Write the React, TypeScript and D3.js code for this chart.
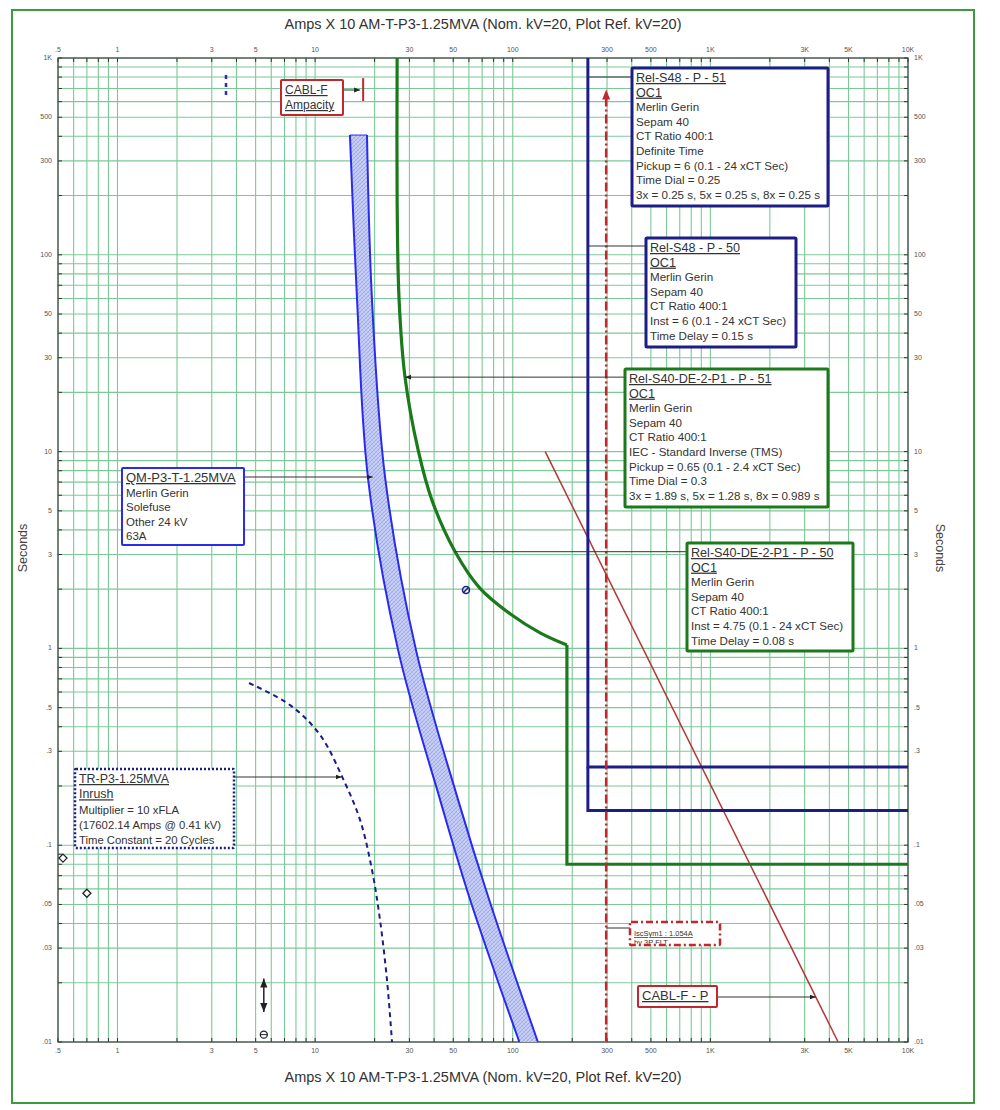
import React from 'react';
import * as d3 from 'd3';

// ---------- data ----------
const xTickValues = [0.5, 1, 3, 5, 10, 30, 50, 100, 300, 500, 1000, 3000, 5000, 10000];
const xTickLabels = ['.5', '1', '3', '5', '10', '30', '50', '100', '300', '500', '1K', '3K', '5K', '10K'];
const yTickValues = [1000, 500, 300, 100, 50, 30, 10, 5, 3, 1, 0.5, 0.3, 0.1, 0.05, 0.03, 0.01];
const yTickLabels = ['1K', '500', '300', '100', '50', '30', '10', '5', '3', '1', '.5', '.3', '.1', '.05', '.03', '.01'];

// Fuse QM-P3-T-1.25MVA (Amps x10, seconds)
const fuseMinMelt: [number, number][] = [[15.0, 406], [16.3, 59], [18.5, 7.4], [26.3, 0.98], [42.9, 0.17], [60.8, 0.053], [108, 0.01]];
const fuseTotalClear: [number, number][] = [[18.3, 406], [19.4, 59], [22.6, 7.4], [32.4, 0.98], [52.9, 0.17], [75.9, 0.053], [134, 0.01]];

// Rel-S40-DE-2-P1 (51 + 50)
const relS40Curve: [number, number][] = [[26, 1000], [26, 190], [26.6, 59], [28.5, 23.9], [33.2, 10.2], [39.0, 5.67], [51.1, 3.1], [68.3, 2.02], [96.9, 1.5], [137.5, 1.2], [188, 1.04]];
const relS40Inst: [number, number][] = [[188, 1.04], [188, 0.08], [10000, 0.08]];

// Rel-S48 (51 definite time + 50)
const relS48Pickup = 240;
const relS48Def: [number, number][] = [[240, 1000], [240, 0.25], [10000, 0.25]];
const relS48Inst: [number, number][] = [[240, 0.25], [240, 0.15], [10000, 0.15]];

// Fault current marker
const iscLine: [number, number][] = [[297, 630], [297, 0.01]];

// Cable damage curve
const cableDamage: [number, number][] = [[146, 10], [4430, 0.01]];
// Cable ampacity
const cableAmpacity: [number, number][] = [[17.5, 790], [17.5, 605]];
// Transformer FLA marker
const trFla: [number, number][] = [[3.54, 820], [3.54, 620]];
// Transformer inrush
const inrush: [number, number][] = [[4.63, 0.667], [7.47, 0.515], [10.6, 0.363], [13.8, 0.219], [16.9, 0.134], [19.4, 0.0748], [21.3, 0.0417], [23.1, 0.0207], [24.5, 0.01]];
// Point markers
const diamondPts: [number, number][] = [[0.53, 0.086], [0.70, 0.057]];
const blueMark: [number, number] = [58, 1.98];
const blackSeg: [number, number][] = [[5.5, 0.021], [5.5, 0.0142]];
const blackCircle: [number, number] = [5.5, 0.0109];

const rel48_51Lines = ['Merlin Gerin', 'Sepam 40', 'CT Ratio 400:1', 'Definite Time', 'Pickup = 6 (0.1 - 24 xCT Sec)', 'Time Dial = 0.25', '3x = 0.25 s, 5x = 0.25 s, 8x = 0.25 s'];
const rel48_50Lines = ['Merlin Gerin', 'Sepam 40', 'CT Ratio 400:1', 'Inst = 6 (0.1 - 24 xCT Sec)', 'Time Delay = 0.15 s'];
const rel40_51Lines = ['Merlin Gerin', 'Sepam 40', 'CT Ratio 400:1', 'IEC - Standard Inverse (TMS)', 'Pickup = 0.65 (0.1 - 2.4 xCT Sec)', 'Time Dial = 0.3', '3x = 1.89 s, 5x = 1.28 s, 8x = 0.989 s'];
const rel40_50Lines = ['Merlin Gerin', 'Sepam 40', 'CT Ratio 400:1', 'Inst = 4.75 (0.1 - 24 xCT Sec)', 'Time Delay = 0.08 s'];
const fuseLines = ['Merlin Gerin', 'Solefuse', 'Other  24 kV', '63A'];
const inrushLines = ['Multiplier = 10 xFLA', '(17602.14 Amps @ 0.41 kV)', 'Time Constant = 20 Cycles'];

const TITLE = 'Amps  X  10   AM-T-P3-1.25MVA (Nom. kV=20, Plot Ref. kV=20)';
const FONT = 'Liberation Sans, Arial, sans-serif';

const L = 58, R = 908, T = 58, B = 1042;

function minorValues(lo: number, hi: number) {
  const out: number[] = [];
  for (let k = -3; k <= 5; k++) {
    for (let m = 1; m <= 9; m++) {
      const v = m * Math.pow(10, k);
      if (v >= lo * 0.9999 && v <= hi * 1.0001) out.push(v);
    }
  }
  return out;
}

type BoxProps = {
  x: number; y: number; w: number; h: number; stroke: string; sw: number; dash?: string;
  titles: string[]; lines: string[]; fs?: number; tfs?: number; lh?: number; id: string;
};

function LabelBox({ x, y, w, h, stroke, sw, dash, titles, lines, fs = 11.6, tfs = 12.6, lh = 14.6, id }: BoxProps) {
  const all = [...titles.map(t => ({ t, u: true })), ...lines.map(t => ({ t, u: false }))];
  return (
    <g>
      <clipPath id={id}><rect x={x} y={y} width={w} height={h - sw / 2} /></clipPath>
      <rect x={x} y={y} width={w} height={h} fill="#fff" stroke={stroke} strokeWidth={sw} strokeDasharray={dash} rx={1} />
      <g clipPath={`url(#${id})`}>
        {all.map((d, i) => (
          <text key={i} x={x + 4} y={y + 14 + i * lh} fontSize={d.u ? tfs : fs} fontFamily={FONT} fill="#333"
            textDecoration={d.u ? 'underline' : undefined}>{d.t}</text>
        ))}
      </g>
    </g>
  );
}

export default function App() {
  const x = d3.scaleLog().domain([0.5, 10000]).range([L, R]);
  const y = d3.scaleLog().domain([0.01, 1000]).range([B, T]);
  const gx = minorValues(0.5, 10000);
  const gy = minorValues(0.01, 1000);
  const lineLin = d3.line<[number, number]>().x(d => x(d[0])).y(d => y(d[1]));
  const lineSmooth = d3.line<[number, number]>().x(d => x(d[0])).y(d => y(d[1])).curve(d3.curveCatmullRom.alpha(0.5));

  const leftPath = lineSmooth(fuseMinMelt) || '';
  const rightPathRev = lineSmooth(fuseTotalClear.slice().reverse()) || '';
  const bandPath = leftPath + 'L' + rightPathRev.slice(1) + 'Z';

  const green = '#1b7a1b';
  const navy = '#1d1d86';
  const red = '#c1272d';
  const gridC = '#7cc998';

  return (
    <svg width={1000} height={1110} style={{ position: 'absolute', left: 0, top: 0, background: '#fff' }}>
      <defs>
        <pattern id="hatch" width="4" height="4" patternUnits="userSpaceOnUse">
          <rect width="4" height="4" fill="#c9d0f7" />
          <path d="M0,4 L4,0" stroke="#8f9ce9" strokeWidth="0.8" />
          <path d="M0,0 L4,4" stroke="#a9b3ef" strokeWidth="0.6" />
        </pattern>
        <marker id="arr" viewBox="0 0 10 10" refX="10" refY="5" markerWidth="6" markerHeight="6" orient="auto-start-reverse">
          <path d="M0,1 L10,5 L0,9 Z" fill="#222" />
        </marker>
      </defs>
      <rect x={12} y={10} width={962} height={1093} fill="#fff" stroke="#3d9b3d" strokeWidth={2} />

      {/* grid */}
      {gx.map((v, i) => <line key={'gx' + i} x1={x(v)} x2={x(v)} y1={T} y2={B} stroke={gridC} strokeWidth={1.1} />)}
      {gy.map((v, i) => <line key={'gy' + i} x1={L} x2={R} y1={y(v)} y2={y(v)} stroke={gridC} strokeWidth={1.1} />)}
      {/* ticks */}
      {gx.map((v, i) => (
        <g key={'tx' + i} stroke="#333" strokeWidth={1}>
          <line x1={x(v)} x2={x(v)} y1={T} y2={T + 4} />
          <line x1={x(v)} x2={x(v)} y1={B} y2={B - 4} />
        </g>
      ))}
      {gy.map((v, i) => (
        <g key={'ty' + i} stroke="#333" strokeWidth={1}>
          <line x1={L} x2={L + 4} y1={y(v)} y2={y(v)} />
          <line x1={R} x2={R - 4} y1={y(v)} y2={y(v)} />
        </g>
      ))}
      <rect x={L} y={T} width={R - L} height={B - T} fill="none" stroke="#444" strokeWidth={1.2} />

      {/* tick labels */}
      {xTickValues.map((v, i) => (
        <g key={'xl' + i} fontSize={7} fontFamily={FONT} fill="#555" textAnchor="middle">
          <text x={x(v)} y={T - 6}>{xTickLabels[i]}</text>
          <text x={x(v)} y={B + 11}>{xTickLabels[i]}</text>
        </g>
      ))}
      {yTickValues.map((v, i) => (
        <g key={'yl' + i} fontSize={7} fontFamily={FONT} fill="#555">
          <text x={L - 6} y={y(v) + 2} textAnchor="end">{yTickLabels[i]}</text>
          <text x={R + 6} y={y(v) + 2} textAnchor="start">{yTickLabels[i]}</text>
        </g>
      ))}

      {/* titles */}
      <text x={483} y={29} textAnchor="middle" fontSize={14.5} fontFamily={FONT} fill="#333">{TITLE}</text>
      <text x={483} y={1082} textAnchor="middle" fontSize={14.5} fontFamily={FONT} fill="#333">{TITLE}</text>
      <text transform="translate(27,548) rotate(-90)" textAnchor="middle" fontSize={12.5} fontFamily={FONT} fill="#444">Seconds</text>
      <text transform="translate(936,548) rotate(90)" textAnchor="middle" fontSize={12.5} fontFamily={FONT} fill="#444">Seconds</text>

      {/* fuse band */}
      <path d={bandPath} fill="url(#hatch)" stroke="none" />
      <path d={leftPath} fill="none" stroke="#2a2af0" strokeWidth={2} />
      <path d={lineSmooth(fuseTotalClear) || ''} fill="none" stroke="#2a2af0" strokeWidth={2} />
      <line x1={x(fuseMinMelt[0][0])} x2={x(fuseTotalClear[0][0])} y1={y(fuseMinMelt[0][1])} y2={y(fuseTotalClear[0][1])} stroke="#2a2af0" strokeWidth={1} />

      {/* transformer inrush */}
      <path d={lineSmooth(inrush) || ''} fill="none" stroke={navy} strokeWidth={2} strokeDasharray="5,4" />
      <path d={lineLin(trFla) || ''} fill="none" stroke="#2a2ad0" strokeWidth={2.5} strokeDasharray="4,4" />

      {/* cable */}
      <path d={lineLin(cableDamage) || ''} fill="none" stroke="#b53535" strokeWidth={1.5} />
      <path d={lineLin(cableAmpacity) || ''} fill="none" stroke={red} strokeWidth={2} />

      {/* relay S48 */}
      <path d={lineLin(relS48Def) || ''} fill="none" stroke={navy} strokeWidth={3} />
      <path d={lineLin(relS48Inst) || ''} fill="none" stroke={navy} strokeWidth={3} />

      {/* relay S40 */}
      <path d={lineSmooth(relS40Curve) || ''} fill="none" stroke={green} strokeWidth={3.2} />
      <path d={lineLin(relS40Inst) || ''} fill="none" stroke={green} strokeWidth={3.2} />

      {/* fault current line */}
      <path d={lineLin(iscLine) || ''} fill="none" stroke={red} strokeWidth={2.5} strokeDasharray="9,3,2,3" />
      <path d={`M${x(iscLine[0][0])},${y(iscLine[0][1]) - 8} l-4,10 l8,0 Z`} fill={red} />

      {/* markers */}
      {diamondPts.map((d, i) => (
        <path key={'dm' + i} d={`M${x(d[0])},${y(d[1]) - 4} l4,4 l-4,4 l-4,-4 Z`} fill="#fff" stroke="#222" strokeWidth={1.3} />
      ))}
      <g stroke={navy} strokeWidth={1.5} fill="none">
        <circle cx={x(blueMark[0])} cy={y(blueMark[1])} r={3.5} />
        <line x1={x(blueMark[0]) - 3} x2={x(blueMark[0]) + 3} y1={y(blueMark[1]) + 3} y2={y(blueMark[1]) - 3} />
      </g>
      <path d={lineLin(blackSeg) || ''} stroke="#222" strokeWidth={1.5} markerStart="url(#arr)" markerEnd="url(#arr)" />
      <circle cx={x(blackCircle[0])} cy={y(blackCircle[1])} r={3.5} fill="none" stroke="#222" strokeWidth={1.3} />
      <line x1={x(blackCircle[0]) - 3.5} x2={x(blackCircle[0]) + 3.5} y1={y(blackCircle[1])} y2={y(blackCircle[1])} stroke="#222" strokeWidth={1} />

      {/* leader lines */}
      <g stroke="#333" strokeWidth={1} fill="none">
        <line x1={x(relS48Pickup)} x2={632} y1={77} y2={77} />
        <line x1={x(relS48Pickup)} x2={646} y1={246} y2={246} />
        <line x1={x(28.5)} x2={625} y1={y(23.9)} y2={y(23.9)} markerStart="url(#arr)" />
        <line x1={x(51.1)} x2={687} y1={y(3.1)} y2={y(3.1)} />
        <line x1={244} x2={x(19.8) - 1} y1={477} y2={477} markerEnd="url(#arr)" />
        <line x1={234} x2={x(13.8) - 1} y1={777} y2={777} markerEnd="url(#arr)" />
        <line x1={343} x2={x(17.5) - 3} y1={90} y2={90} markerEnd="url(#arr)" />
        <line x1={x(297)} x2={630} y1={928} y2={928} />
        <line x1={717} x2={x(3500) - 2} y1={997} y2={997} markerEnd="url(#arr)" />
      </g>

      {/* label boxes */}
      <LabelBox id="c1" x={632} y={68} w={196} h={138} stroke={navy} sw={3} titles={['Rel-S48 - P - 51', 'OC1']} lines={rel48_51Lines} />
      <LabelBox id="c2" x={646} y={238} w={150} h={109} stroke={navy} sw={3} titles={['Rel-S48 - P - 50', 'OC1']} lines={rel48_50Lines} />
      <LabelBox id="c3" x={625} y={369} w={203} h={138} stroke={green} sw={3} titles={['Rel-S40-DE-2-P1 - P - 51', 'OC1']} lines={rel40_51Lines} />
      <LabelBox id="c4" x={687} y={543} w={166} h={108} stroke={green} sw={3} titles={['Rel-S40-DE-2-P1 - P - 50', 'OC1']} lines={rel40_50Lines} />
      <LabelBox id="c5" x={122} y={468} w={122} h={77} stroke="#2a2af0" sw={2} titles={['QM-P3-T-1.25MVA']} lines={fuseLines} lh={14.5} tfs={13} fs={11.5} />
      <LabelBox id="c6" x={75} y={769} w={159} h={79} stroke={navy} sw={2.5} dash="2,2" titles={['TR-P3-1.25MVA', 'Inrush']} lines={inrushLines} lh={15.3} fs={11.3} tfs={12.4} />
      <LabelBox id="c7" x={281} y={80} w={62} h={35} stroke={red} sw={2} titles={['CABL-F', 'Ampacity']} lines={[]} lh={15} tfs={12} />
      <LabelBox id="c8" x={630} y={922} w={90} h={23} stroke={red} sw={2.5} dash="7,3,2,3" titles={['IscSym1 : 1.054A']} lines={['by 3P FLT']} fs={7.5} tfs={7.5} lh={9} />
      <LabelBox id="c9" x={638} y={986} w={79} h={21} stroke={red} sw={2} titles={['CABL-F - P']} lines={[]} tfs={13} />
    </svg>
  );
}
